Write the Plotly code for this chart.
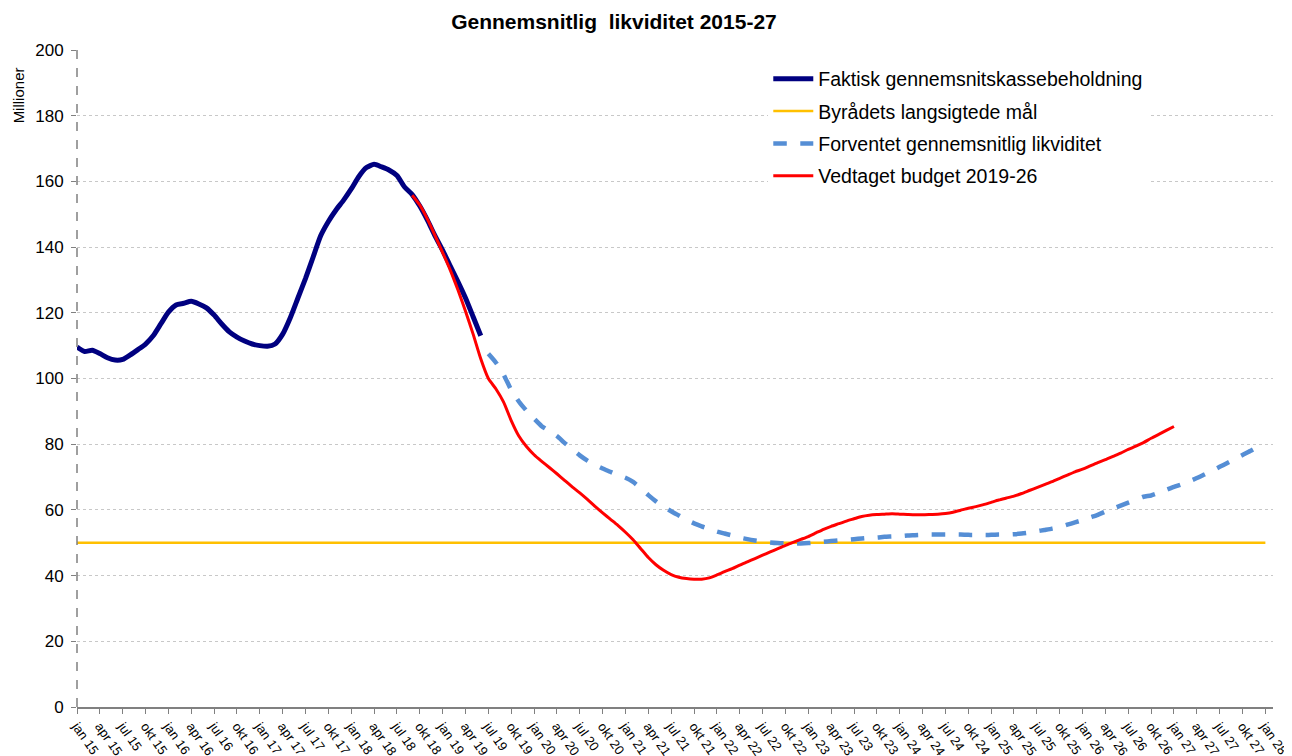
import plotly.graph_objects as go

months_short = ["jan", "apr", "jul", "okt"]
tick_vals = list(range(0, 157, 3))
tick_text = [f"{months_short[(i // 3) % 4]} {15 + i // 12}" for i in tick_vals]

actual_start = 0
actual = [109.6, 108.2, 108.6, 107.6, 106.3, 105.6, 105.8, 107.2, 108.8, 110.5,
          113.0, 116.6, 120.2, 122.4, 122.9, 123.5, 122.7, 121.5, 119.3, 116.6,
          114.2, 112.6, 111.4, 110.5, 110.0, 109.8, 110.5, 113.5, 118.5, 124.5,
          130.5, 137.0, 143.5, 147.8, 151.3, 154.3, 157.7, 161.5, 164.2, 165.2,
          164.4, 163.4, 161.8, 158.3, 156.0, 152.5, 148.2, 143.4, 139.0, 134.2,
          129.5, 124.5, 118.8, 113.0]

budget_start = 44
budget = [155.8, 152.8, 148.5, 143.5, 138.3, 133.0, 127.0, 120.5, 113.5, 106.0,
          100.0, 96.8, 92.8, 87.2, 82.5, 79.3, 76.8, 74.8, 72.9, 71.0,
          69.0, 67.0, 65.2, 63.2, 61.1, 59.1, 57.2, 55.3, 53.2, 50.9,
          48.2, 45.5, 43.3, 41.6, 40.3, 39.5, 39.1, 38.9, 38.9, 39.3,
          40.2, 41.2, 42.1, 43.2, 44.2, 45.2, 46.2, 47.2, 48.2, 49.2,
          50.1, 51.0, 51.9, 53.0, 54.1, 55.0, 55.8, 56.6, 57.3, 58.0,
          58.4, 58.6, 58.7, 58.8, 58.7, 58.6, 58.5, 58.5, 58.6, 58.7,
          58.9, 59.3, 59.9, 60.5, 61.0, 61.6, 62.3, 63.0, 63.6, 64.2,
          65.0, 65.9, 66.8, 67.7, 68.6, 69.6, 70.6, 71.6, 72.4, 73.4,
          74.4, 75.3, 76.3, 77.3, 78.4, 79.4, 80.5, 81.8, 83.0, 84.2,
          85.4]

forecast_start = 54
forecast = [107.5, 104.8, 101.2, 96.5, 93.0, 90.2, 87.8, 85.5, 84.0, 82.5,
            80.4, 78.5, 76.6, 75.0, 73.7, 72.6, 71.6, 70.6, 69.8, 68.5,
            66.6, 64.5, 62.6, 61.0, 59.6, 58.3, 57.0, 55.9, 55.0, 54.2,
            53.4, 52.8, 52.2, 51.6, 51.1, 50.7, 50.4, 50.1, 49.9, 49.8,
            49.8, 49.8, 49.9, 50.1, 50.3, 50.5, 50.7, 50.9, 51.1, 51.3,
            51.5, 51.6, 51.8, 51.9, 52.0, 52.2, 52.3, 52.4, 52.5, 52.5,
            52.5, 52.5, 52.5, 52.4, 52.4, 52.4, 52.4, 52.5, 52.5, 52.6,
            52.8, 53.1, 53.5, 53.9, 54.3, 54.8, 55.5, 56.2, 56.9, 57.7,
            58.5, 59.5, 60.4, 61.3, 62.2, 63.1, 64.0, 64.4, 65.2, 66.1,
            67.0, 67.8, 68.7, 69.7, 70.8, 71.9, 73.1, 74.3, 75.5, 76.7,
            77.9, 79.2]

target_value = 50
target_x = [0, 156]

font_family = "Liberation Sans, Arial, sans-serif"

fig = go.Figure()
fig.add_trace(go.Scatter(
    x=target_x, y=[target_value] * len(target_x), mode="lines",
    name="Byrådets langsigtede mål", line=dict(color="#FFC000", width=2.5),
    legendrank=2, legendgroup="b"))
fig.add_trace(go.Scatter(
    x=list(range(forecast_start, forecast_start + len(forecast))), y=forecast,
    mode="lines", name="Forventet gennemsnitlig likviditet",
    line=dict(color="#558ED5", width=4.5, dash="dash", shape="spline", smoothing=0.6),
    legendrank=3, legendgroup="c"))
fig.add_trace(go.Scatter(
    x=list(range(actual_start, actual_start + len(actual))), y=actual,
    mode="lines", name="Faktisk gennemsnitskassebeholdning",
    line=dict(color="#000080", width=5, shape="spline", smoothing=0.6),
    legendrank=1, legendgroup="a"))
fig.add_trace(go.Scatter(
    x=list(range(budget_start, budget_start + len(budget))), y=budget,
    mode="lines", name="Vedtaget budget 2019-26",
    line=dict(color="#FF0000", width=3, shape="spline", smoothing=0.6),
    legendrank=4, legendgroup="d"))

fig.update_layout(
    width=1292, height=756,
    margin=dict(l=69, r=27, t=42, b=57, autoexpand=False),
    paper_bgcolor="white", plot_bgcolor="white",
    font=dict(family=font_family, color="#000000"),
    title=dict(text="<b>Gennemsnitlig  likviditet 2015-27</b>", x=0.469, xanchor="center",
               y=0.9815, yanchor="middle", font=dict(size=21, family=font_family),
               automargin=False),
    showlegend=True,
    legend=dict(x=0.578, y=0.9855, xanchor="left", yanchor="top",
                bgcolor="white", font=dict(size=19.5, family=font_family),
                tracegroupgap=4, itemwidth=40),
    xaxis=dict(range=[0, 157], tickmode="array", tickvals=tick_vals, ticktext=tick_text,
               tickangle=55, tickfont=dict(size=13, color="#000000"), automargin=False,
               showgrid=False, zeroline=False, showline=True, linecolor="#808080",
               linewidth=1.5, ticks="outside", ticklen=5, tickcolor="#808080"),
    yaxis=dict(range=[0, 200], dtick=20, tickfont=dict(size=17, color="#000000"),
               automargin=False, ticklabelstandoff=4,
               showgrid=True, gridcolor="#C8C8C8", griddash="dot", gridwidth=1,
               zeroline=False, showline=False, ticks="outside", ticklen=5,
               tickcolor="#808080"),
    shapes=[dict(type="line", xref="paper", yref="paper", x0=0, x1=0, y0=0, y1=1,
                 line=dict(color="#808080", width=1.5, dash="dash"))],
    annotations=[dict(text="Millioner", xref="paper", yref="paper", x=-0.0493, y=0.931,
                      textangle=-90, showarrow=False, xanchor="center", yanchor="middle",
                      font=dict(size=15, family=font_family))],
)

fig.write_html("out.html")
